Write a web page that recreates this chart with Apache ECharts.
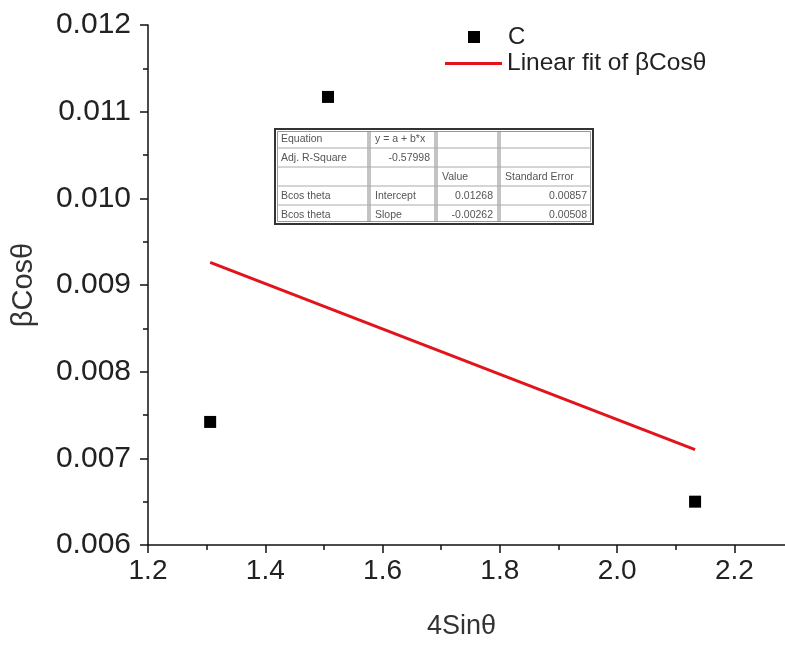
<!DOCTYPE html>
<html>
<head>
<meta charset="utf-8">
<script src="https://cdn.jsdelivr.net/npm/echarts@6/dist/echarts.min.js"></script>
<style>
html,body{margin:0;padding:0;background:#fff;}
#chart{width:785px;height:645px;}
</style>
</head>
<body>
<div id="chart"></div>
<script>
// ---- data ----
const pointsX = [1.306, 1.507, 2.133];
const pointsY = [0.00742, 0.01117, 0.00650];
const fitX = [1.306, 2.133];
const fitY = [0.00926, 0.00710];
const seriesNames = ['C', 'Linear fit of βCosθ'];
const xTitle = '4Sinθ';
const yTitle = 'βCosθ';
const tableRows = [
  ['Equation', 'y = a + b*x', '', ''],
  ['Adj. R-Square', '-0.57998', '', ''],
  ['', '', 'Value', 'Standard Error'],
  ['Bcos theta', 'Intercept', '0.01268', '0.00857'],
  ['Bcos theta', 'Slope', '-0.00262', '0.00508']
];

const FONT = 'Liberation Sans, Arial, sans-serif';
const RED = '#e3131b';

// ---- table graphic ----
const colEdges = [275, 369, 436, 499, 593];
const tTop = 129, rowH = 19;
const tBottom = tTop + rowH * tableRows.length;
const tableEls = [];
tableEls.push({type:'rect', shape:{x:colEdges[0], y:tTop, width:colEdges[4]-colEdges[0], height:tBottom-tTop},
  style:{fill:'#fff', stroke:'#333', lineWidth:2}});
tableEls.push({type:'rect', shape:{x:colEdges[0]+2.5, y:tTop+2.5, width:colEdges[4]-colEdges[0]-5, height:tBottom-tTop-5},
  style:{fill:'none', stroke:'#999', lineWidth:1}});
for (let c = 1; c < colEdges.length - 1; c++) {
  [-1, 1].forEach(d => tableEls.push({type:'line', shape:{x1:colEdges[c]+d, y1:tTop+2, x2:colEdges[c]+d, y2:tBottom-2},
    style:{stroke:'#888', lineWidth:1}}));
}
for (let r = 1; r < tableRows.length; r++) {
  tableEls.push({type:'line', shape:{x1:colEdges[0]+2, y1:tTop+r*rowH, x2:colEdges[4]-2, y2:tTop+r*rowH},
    style:{stroke:'#aaa', lineWidth:1}});
}
tableRows.forEach((row, r) => {
  row.forEach((txt, c) => {
    if (!txt) return;
    const numeric = /^-?\d/.test(txt);
    tableEls.push({type:'text', x: numeric ? colEdges[c+1]-6 : colEdges[c]+6, y: tTop + r*rowH + rowH/2 + 0.5,
      style:{text: txt, fill:'#555', font:'10.5px ' + FONT, align: numeric ? 'right' : 'left', verticalAlign:'middle'}});
  });
});

const chart = echarts.init(document.getElementById('chart'), null, {renderer:'canvas'});
chart.setOption({
  animation: false,
  backgroundColor: '#fff',
  textStyle: {fontFamily: FONT},
  grid: {left: 148, top: 25, right: -8, bottom: 100, containLabel: false, outerBoundsMode: 'none'},
  legend: [
    {data: [{name: seriesNames[0], icon: 'rect'}], left: 468, top: 25, padding: 0, orient: 'vertical',
     itemWidth: 12, itemHeight: 12, selectedMode: false,
     itemStyle: {color: '#000', opacity: 1},
     textStyle: {fontSize: 24, color: '#222', fontFamily: FONT, padding: [0, 0, 0, 23]}},
    {data: [{name: seriesNames[1], icon: 'rect'}], left: 445, top: 51, padding: 0, orient: 'vertical',
     itemWidth: 57, itemHeight: 3, selectedMode: false,
     itemStyle: {color: RED},
     textStyle: {fontSize: 24.5, color: '#222', fontFamily: FONT}}
  ],
  xAxis: {
    type: 'value', min: 1.2, max: 2.3, interval: 0.2,
    name: xTitle, nameLocation: 'middle', nameGap: 68,
    nameTextStyle: {fontSize: 27, color: '#333', fontFamily: FONT, padding: [0, 18, 0, 0]},
    axisLine: {show: true, lineStyle: {color: '#111', width: 1.5}},
    axisTick: {show: true, inside: false, length: 8, lineStyle: {color: '#111', width: 1.5}},
    minorTick: {show: true, splitNumber: 2, length: 5, lineStyle: {color: '#111', width: 1.5}},
    splitLine: {show: false},
    axisLabel: {fontSize: 28, color: '#222', margin: 12, showMaxLabel: false,
      formatter: v => v.toFixed(1)}
  },
  yAxis: {
    type: 'value', min: 0.006, max: 0.012, interval: 0.001,
    name: yTitle, nameLocation: 'middle', nameGap: 110,
    nameTextStyle: {fontSize: 29, color: '#333', fontFamily: FONT},
    axisLine: {show: true, lineStyle: {color: '#111', width: 1.5}},
    axisTick: {show: true, inside: false, length: 8, lineStyle: {color: '#111', width: 1.5}},
    minorTick: {show: true, splitNumber: 2, length: 5, lineStyle: {color: '#111', width: 1.5}},
    splitLine: {show: false},
    axisLabel: {fontSize: 30, color: '#222', margin: 17, formatter: v => v.toFixed(3)}
  },
  series: [
    {name: seriesNames[0], type: 'scatter', symbol: 'rect', symbolSize: 12,
     itemStyle: {color: '#000', opacity: 1}, data: pointsX.map((x, i) => [x, pointsY[i]]), z: 3},
    {name: seriesNames[1], type: 'line', symbol: 'none', showSymbol: false,
     lineStyle: {color: RED, width: 3}, itemStyle: {color: RED},
     data: fitX.map((x, i) => [x, fitY[i]]), z: 2}
  ],
  graphic: tableEls
});
</script>
</body>
</html>
